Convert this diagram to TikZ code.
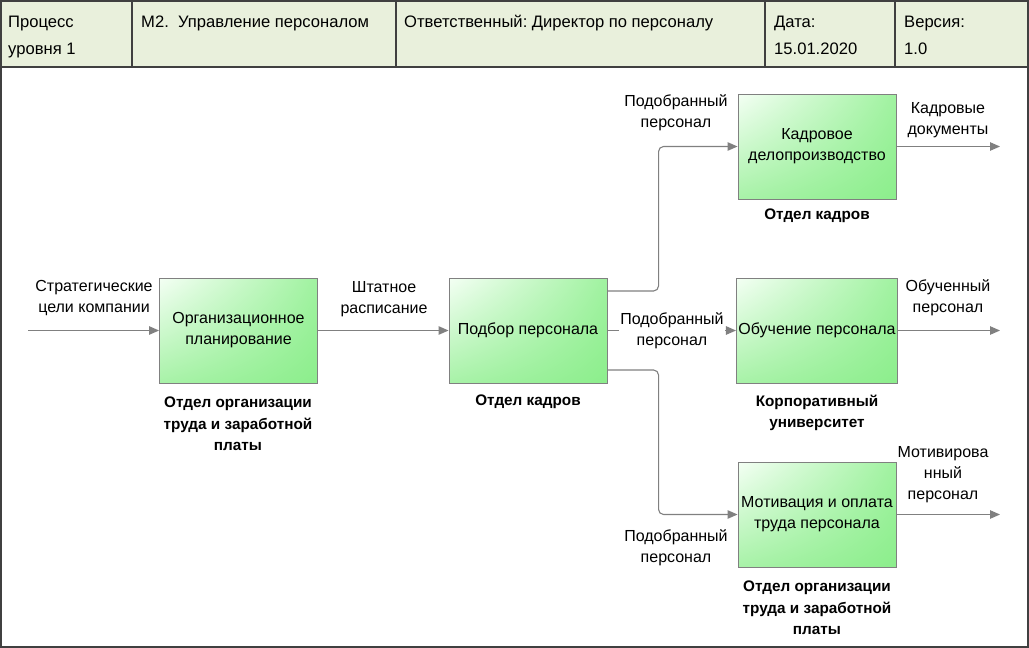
\documentclass[tikz,border=0pt]{standalone}
\usepackage{fontspec}
\setmainfont{Liberation Sans}
\usetikzlibrary{arrows.meta,shadings}
\definecolor{hdr}{HTML}{E9F0DC}
\definecolor{frame}{HTML}{404040}
\definecolor{ln}{HTML}{808080}
\definecolor{gA}{HTML}{F4FFF4}
\definecolor{gB}{HTML}{A0F2A0}
\definecolor{gC}{HTML}{A8F2A8}
\definecolor{gD}{HTML}{8CEE8C}
\frenchspacing
\begin{document}
\begin{tikzpicture}[x=1pt,y=-1pt,
  font=\fontsize{16}{21}\selectfont,
  proc/.style={draw=ln, line width=0.9pt, minimum width=158pt, minimum height=105pt,
    inner sep=2pt, align=center,
    upper left=gA, upper right=gB, lower left=gC, lower right=gD},
  lbl/.style={align=center, inner sep=1pt},
  org/.style={align=center, inner sep=1pt, font=\fontsize{15.3}{21.5}\selectfont\bfseries},
  htxt/.style={anchor=base west, inner sep=0pt, font=\fontsize{16.6}{20}\selectfont},
  flow/.style={draw=ln, line width=1.1pt, rounded corners=5pt,
    -{Triangle[length=10pt,width=8.5pt]}}
]
\useasboundingbox (0,0) rectangle (1029,648);
% header
\fill[hdr] (1,1) rectangle (1028,67);
\draw[frame, line width=2pt] (1,1) rectangle (1028,647);
\draw[frame, line width=2pt] (1,67) -- (1028,67);
\foreach \xx in {132,396,765,895} \draw[frame, line width=1.4pt] (\xx,1) -- (\xx,67);
\node[htxt] (h1a) at (8,27) {Процесс};
\node[htxt] (h1b) at (8,54) {уровня 1};
\node[htxt] (h2) at (141,27) {М2.\ \ Управление персоналом};
\node[htxt] (h3) at (404,27) {Ответственный: Директор по персоналу};
\node[htxt] (h4a) at (774,27) {Дата:};
\node[htxt] (h4b) at (774,54) {15.01.2020};
\node[htxt] (h5a) at (904,27) {Версия:};
\node[htxt] (h5b) at (904,54) {1.0};
% boxes
\node[proc] (b1) at (238.5,330.5) {Организационное\\планирование};
\node[proc] (b2) at (528,330.5) {Подбор персонала};
\node[proc] (b3) at (817,146.5) {Кадровое\\делопроизводство};
\node[proc] (b4) at (817,330.5) {Обучение персонала};
\node[proc] (b5) at (817,514.5) {Мотивация и оплата\\труда персонала};
% org labels
\node[org] (o1) at (238,424) {Отдел организации\\труда и заработной\\платы};
\node[org] (o2) at (528,402) {Отдел кадров};
\node[org] (o3) at (817,216) {Отдел кадров};
\node[org] (o4) at (817,413) {Корпоративный\\университет};
\node[org] (o5) at (817,608) {Отдел организации\\труда и заработной\\платы};
% coordinates
\coordinate (in) at (28,330.5);
\coordinate (out3) at (1000,146.5);
\coordinate (out4) at (1000,330.5);
\coordinate (out5) at (1000,514.5);
% connectors
\draw[flow] (in) -- (b1.west);
\draw[flow] (b1.east) -- (b2.west);
\draw[flow] (b2.east) -- (b4.west);
\draw[flow] ([yshift=39.5pt]b2.east) -| ([xshift=-79pt]b3.west) -- (b3.west);
\draw[flow] ([yshift=-39.5pt]b2.east) -| ([xshift=-79pt]b5.west) -- (b5.west);
\draw[flow] (b3.east) -- (out3);
\draw[flow] (b4.east) -- (out4);
\draw[flow] (b5.east) -- (out5);
% flow labels
\node[lbl] (l1) at (94,298.5) {Стратегические\\цели компании};
\node[lbl] (l2) at (384,299) {Штатное\\расписание};
\node[lbl, fill=white] (l3) at (672,331) {Подобранный\\персонал};
\node[lbl] (l4) at (676,113) {Подобранный\\персонал};
\node[lbl] (l5) at (676,548) {Подобранный\\персонал};
\node[lbl] (l6) at (948,120.5) {Кадровые\\документы};
\node[lbl] (l7) at (948,298) {Обученный\\персонал};
\node[lbl] (l8) at (943,474.5) {Мотивирова\\нный\\персонал};
\end{tikzpicture}
\end{document}
